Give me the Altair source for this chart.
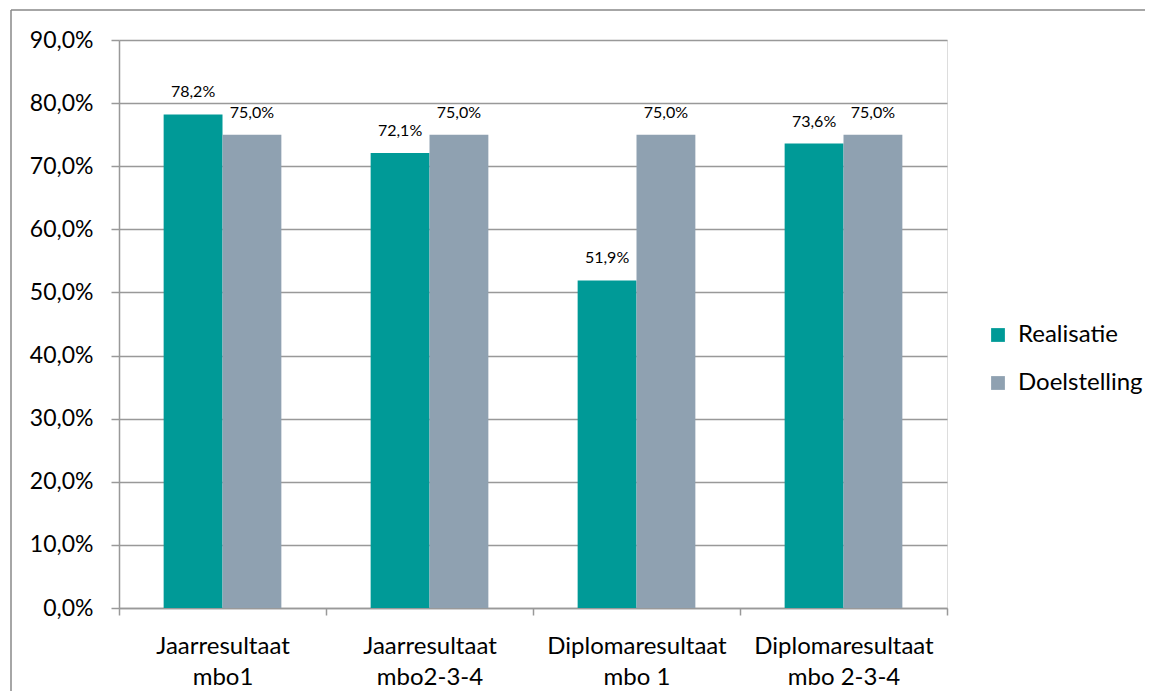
import altair as alt
import pandas as pd

categories = ["Jaarresultaat\nmbo1", "Jaarresultaat\nmbo2-3-4", "Diplomaresultaat\nmbo 1", "Diplomaresultaat\nmbo 2-3-4"]
series = ["Realisatie", "Doelstelling"]
realisatie = [0.782, 0.721, 0.519, 0.736]
doelstelling = [0.750, 0.750, 0.750, 0.750]
colors = ["#009A97", "#8FA1B1"]

rows = []
for c, r, d in zip(categories, realisatie, doelstelling):
    rows.append({"cat": c, "series": series[0], "value": r})
    rows.append({"cat": c, "series": series[1], "value": d})
df = pd.DataFrame(rows)

FONT = "Lato"

x = alt.X("cat:N", sort=categories, title=None,
          scale=alt.Scale(paddingInner=0, paddingOuter=0),
          axis=alt.Axis(labelExpr="isValid(datum.value) ? split(datum.value, '\\n') : ''",
                        labelAngle=0,
                        labelFontSize=24, labelLineHeight=31, labelPadding=19,
                        labelColor="black", labelFont=FONT,
                        tickBand="extent", tickSize=7, tickColor="#999999", tickWidth=1.5,
                        domainColor="#999999", domainWidth=1.5, grid=False))
xo = alt.XOffset("series:N", sort=series,
                 scale=alt.Scale(paddingInner=0, paddingOuter=0.7585))
y = alt.Y("value:Q", title=None,
          scale=alt.Scale(domain=[0, 0.9], nice=False),
          axis=alt.Axis(values=[i / 10 for i in range(10)],
                        labelExpr="replace(format(datum.value, '.1%'), '.', ',')",
                        labelFontSize=23, labelColor="black", labelFont=FONT,
                        labelPadding=18, tickSize=8, tickColor="#999999", tickWidth=1.5,
                        domainColor="#999999", domainWidth=1.5,
                        grid=True, gridColor="#999999", gridWidth=1.5))

base = alt.Chart(df)

bars = base.mark_bar().encode(
    x=x, xOffset=xo, y=y,
    color=alt.Color("series:N", sort=series, title=None,
                    scale=alt.Scale(domain=series, range=colors),
                    legend=alt.Legend(orient="none", legendX=867, legendY=283,
                                      symbolType="square", symbolSize=190,
                                      symbolStrokeWidth=0, labelFontSize=24,
                                      labelFont=FONT, labelColor="black",
                                      rowPadding=24, labelOffset=8)),
)

labels = base.transform_calculate(
    lab="replace(format(datum.value, '.1%'), '.', ',')"
).mark_text(baseline="alphabetic", dy=-17, fontSize=16, font=FONT, color="black").encode(
    x=x, xOffset=xo, y=y, text="lab:N"
)

frame_data = alt.Data(values=[{"k": 1}])
frame_left = alt.Chart(frame_data).mark_rule(color="#888888", strokeWidth=1.5).encode(
    x=alt.value(-108), y=alt.value(-30), y2=alt.value(660)
)
frame_top = alt.Chart(frame_data).mark_rule(color="#888888", strokeWidth=1.5).encode(
    x=alt.value(-108), x2=alt.value(1040), y=alt.value(-30)
)

chart = alt.layer(bars, labels, frame_left, frame_top).properties(
    width=828, height=568,
    autosize=alt.AutoSizeParams(type="none"),
    padding={"left": 111, "top": 32, "right": 198, "bottom": 83},
).configure_view(stroke=None).configure(font=FONT)

chart.save("out.html", embed_options={"renderer": "svg", "actions": False})
